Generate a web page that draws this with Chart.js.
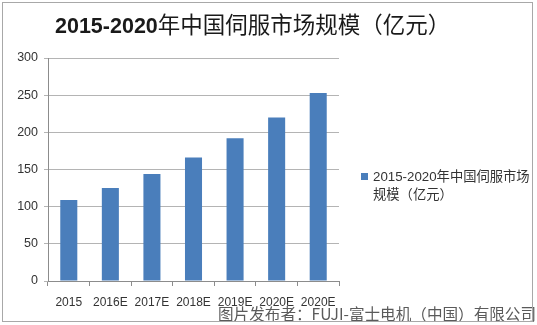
<!DOCTYPE html>
<html>
<head>
<meta charset="utf-8">
<script src="https://cdn.jsdelivr.net/npm/chart.js@4.4.0/dist/chart.umd.min.js"></script>
<style>
  html, body { margin: 0; padding: 0; background: #fff; }
  #wrap { position: relative; width: 537px; height: 325px; overflow: hidden; }
  #frame { position: absolute; left: 2px; top: 2px; width: 531px; height: 320px; border: 1px solid #a8a8a8; box-sizing: border-box; pointer-events: none; }
  #chart { position: absolute; left: 0; top: 0; }
  #title { position: absolute; left: 55px; top: 8px; white-space: nowrap; font-size: 22.5px; color: #1a1a1a;
           font-family: "Noto Sans CJK SC", sans-serif; font-weight: 400; line-height: 30px; }
  #title b { font-family: "Liberation Sans", Arial, sans-serif; font-weight: 700; font-size: 21.5px; }
  #legend { position: absolute; left: 361px; top: 167px; white-space: nowrap; font-size: 13.3px; line-height: 17px; color: #333;
            font-family: "Noto Sans CJK SC", sans-serif; }
  #legend .sw { position: absolute; left: 0; top: 6px; width: 7px; height: 7px; }
  #legend .tx { margin-left: 12px; }
  #legend .tx span { font-family: "Liberation Sans", Arial, sans-serif; }
  #mark { position: absolute; left: 218px; top: 302px; white-space: nowrap; font-size: 15.6px; color: #5a5a5a;
          font-family: "Noto Sans CJK SC", sans-serif; text-shadow: 0 0 2px #fff, 0 0 2px #fff; }
</style>
</head>
<body>
<div id="wrap">
  <canvas id="chart" width="537" height="325"></canvas>
  <div id="title"><b>2015-2020</b>年中国伺服市场规模（亿元）</div>
  <div id="legend"><div class="sw"></div><div class="tx"><span>2015-2020</span>年中国伺服市场<br>规模（亿元）</div></div>
  <div id="mark">图片发布者：FUJI-富士电机（中国）有限公司</div>
  <div id="frame"></div>
</div>
<script>
  // data
  const categories = ['2015', '2016E', '2017E', '2018E', '2019E', '2020E', '2020E'];
  const marketSize = [109, 125, 144, 166, 192, 220, 253];
  const yTicks = [0, 50, 100, 150, 200, 250, 300];
  const seriesName = '2015-2020年中国伺服市场规模（亿元）';
  const barColor = '#4a7ebb';

  document.querySelector('#legend .sw').style.background = barColor;

  const axisGray = '#8c8c8c';

  new Chart(document.getElementById('chart'), {
    type: 'bar',
    data: {
      labels: categories,
      datasets: [{
        label: seriesName,
        data: marketSize,
        backgroundColor: barColor,
        borderWidth: 0,
        categoryPercentage: 1,
        barPercentage: 0.41
      }]
    },
    options: {
      responsive: false,
      animation: false,
      layout: { padding: { left: 0, top: 58, right: 198, bottom: 0 } },
      plugins: { legend: { display: false }, title: { display: false }, tooltip: { enabled: false } },
      scales: {
        x: {
          grid: { drawOnChartArea: false, drawTicks: true, tickLength: 5, color: axisGray, offset: true },
          border: { color: axisGray },
          ticks: { color: '#333', padding: 9, font: { family: 'Liberation Sans', size: 12 }, maxRotation: 0, autoSkip: false },
          afterFit: s => { s.height = 44; }
        },
        y: {
          min: yTicks[0],
          max: yTicks[yTicks.length - 1],
          afterBuildTicks: s => { s.ticks = yTicks.map(v => ({ value: v })); },
          grid: { color: '#b4b4b4', drawTicks: true, tickLength: 4 },
          border: { color: axisGray },
          ticks: { color: '#333', padding: 6, font: { family: 'Liberation Sans', size: 12.5 } },
          afterFit: s => { s.width = 48; }
        }
      }
    }
  });
</script>
</body>
</html>
